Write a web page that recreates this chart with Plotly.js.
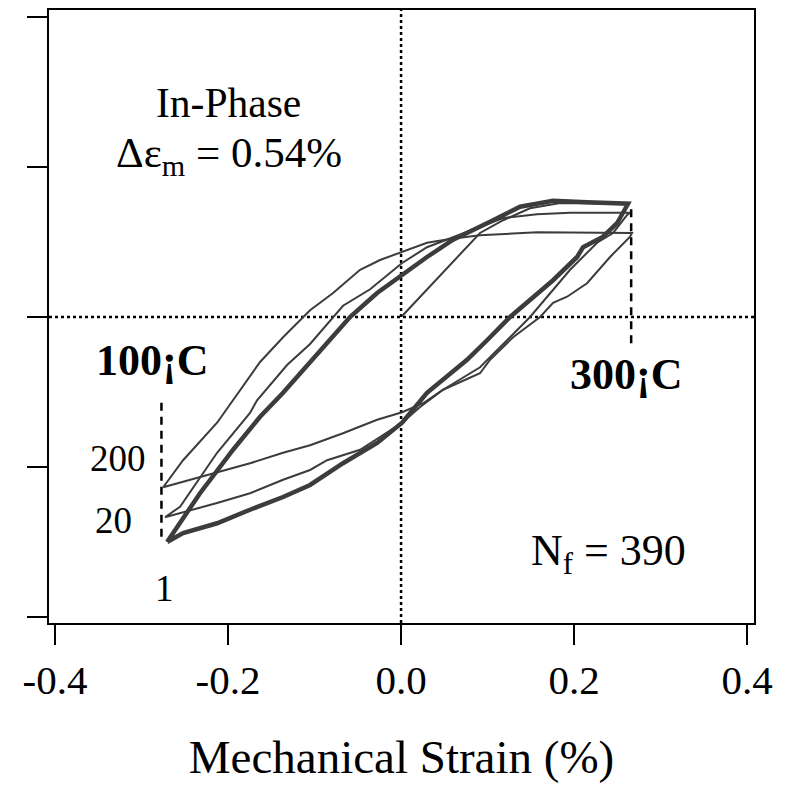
<!DOCTYPE html>
<html>
<head>
<meta charset="utf-8">
<script src="https://cdn.plot.ly/plotly-3.0.1.min.js"></script>
<style>html,body{margin:0;padding:0;background:#fff;}#chart{width:786px;height:789px;}</style>
</head>
<body>
<div id="chart"></div>
<script>
// ---- Data (strain in %, stress in arbitrary MPa-like units) ----
// Cycle 1 (thick): lower-left -> upper branch -> max -> lower branch -> lower-left
var cycle1Strain = [-0.2705,-0.2324,-0.1942,-0.163,-0.1364,-0.1052,-0.0936,-0.059,-0.0277,0.0012,0.030,0.0601,0.0913,0.1029,0.1376,0.1757,0.215,0.2416,0.2624,
                    0.2497,0.2335,0.2104,0.2035,0.1757,0.1491,0.126,0.0994,0.0763,0.030,0.0012,-0.0277,-0.0671,-0.1052,-0.1364,-0.1746,-0.2127,-0.252,-0.2705];
var cycle1Stress = [-300,-235,-177,-133,-101,-60,-47,0,32,56,80,103,120,127,147,155,153,152,151,
                    125,107,93,80,49,23,0,-31,-57,-101,-141,-168,-195,-224,-240,-257,-275,-288,-300];
// Initial loading of cycle 1 (thin), from the origin to the first peak
var initialStrain = [0.001,0.046,0.0913,0.118,0.149,0.184,0.230,0.2624];
var initialStress = [1,57,112,129,145,152,152,151];
// Cycle 20 (thin)
var cycle20Strain = [-0.273,-0.2555,-0.2127,-0.1746,-0.1665,-0.1318,-0.1052,-0.0671,-0.0358,0.0012,0.030,0.0566,0.0913,0.1179,0.1572,0.1954,0.2647,
                     0.2613,0.2451,0.2266,0.1954,0.1491,0.126,0.0994,0.0913,0.0486,0.022,0.0012,-0.0474,-0.0855,-0.1052,-0.1364,-0.1746,-0.2127,-0.252,-0.273];
var cycle20Stress = [-267,-253,-181,-128,-111,-64,-36,15,37,72,93,105,120,132,137,139,139,
                     136,112,99,63,0,-27,-57,-67,-97,-120,-141,-177,-191,-204,-217,-235,-248,-260,-267];
// Cycle 200 (thin)
var cycle200Strain = [-0.275,-0.252,-0.2127,-0.163,-0.1364,-0.1052,-0.0786,-0.0474,-0.0243,0.0012,0.030,0.0566,0.0913,0.1572,0.2335,0.267,
                      0.2647,0.2416,0.215,0.1919,0.1757,0.1607,0.1295,0.1029,0.0913,0.0486,0.0254,0.0012,-0.0277,-0.0671,-0.1052,-0.1364,-0.1746,-0.2324,-0.275];
var cycle200Stress = [-227,-191,-141,-60,-27,9,32,63,76,87,99,104,109,113,112,112,
                      107,80,45,27,19,0,-27,-57,-75,-97,-115,-127,-137,-155,-171,-181,-195,-213,-227];
// Temperature markers (dashed verticals)
var markerStrain = [-0.277, 0.266];
var markerLow    = [-293, -35];
var markerHigh   = [-107, 145];
// Axis ticks
var xTickVals = [-0.4,-0.2,0,0.2,0.4];
var xTickText = ["-0.4","-0.2","0.0","0.2","0.4"];
var yTickVals = [-400,-200,0,200,400];

var serif = "Liberation Serif, Times New Roman, serif";
var curveColor = "#3c3c3c";

var traces = [];
function loop(x, y, w) {
  return {x: x, y: y, type: "scatter", mode: "lines", hoverinfo: "skip",
          line: {color: curveColor, width: w, shape: "linear"}, showlegend: false};
}
// dashed temperature markers
for (var i = 0; i < markerStrain.length; i++) {
  traces.push({x: [markerStrain[i], markerStrain[i]], y: [markerLow[i], markerHigh[i]], type: "scatter", mode: "lines",
               line: {color: "#000", width: 2.5, dash: "8px,6px"}, showlegend: false, hoverinfo: "skip"});
}
traces.push(loop(cycle200Strain, cycle200Stress, 2));
traces.push(loop(cycle20Strain, cycle20Stress, 2));
traces.push(loop(initialStrain, initialStress, 2));
traces.push(loop(cycle1Strain, cycle1Stress, 4.5));

var axisCommon = {showgrid: false, zeroline: false, showline: true, linecolor: "#000", linewidth: 2,
                  mirror: true, ticks: "outside", ticklen: 20, tickwidth: 2, tickcolor: "#000"};

function note(x, y, text, size) {
  return {xref: "paper", yref: "paper", x: x, y: y, xanchor: "center", yanchor: "middle",
          text: text, showarrow: false, font: {family: serif, size: size, color: "#000"}};
}

var layout = {
  width: 786, height: 789,
  margin: {l: 49, r: 32, t: 10, b: 166},
  paper_bgcolor: "#fff", plot_bgcolor: "#fff",
  font: {family: serif, color: "#000"},
  xaxis: Object.assign({}, axisCommon, {
    range: [-0.407, 0.408], tickmode: "array", tickvals: xTickVals, ticktext: xTickText,
    tickfont: {family: serif, size: 41, color: "#000"},
    title: {text: "Mechanical Strain (%)", font: {family: serif, size: 47, color: "#000"}, standoff: 38}
  }),
  yaxis: Object.assign({}, axisCommon, {
    range: [-408, 409.3], tickmode: "array", tickvals: yTickVals, showticklabels: false
  }),
  shapes: [
    {type: "line", xref: "x", yref: "paper", x0: 0, x1: 0, y0: 0, y1: 1, line: {color: "#000", width: 2.5, dash: "dot"}, layer: "below"},
    {type: "line", xref: "paper", yref: "y", x0: 0, x1: 1, y0: 0, y1: 0, line: {color: "#000", width: 2.5, dash: "dot"}, layer: "below"}
  ],
  annotations: [
    note(0.2553, 0.848, "In-Phase", 41.5),
    note(0.2553, 0.762, "Δε<sub>m</sub> = 0.54%", 43),
    note(0.146, 0.429, "<b>100¡C</b>", 44),
    note(0.818, 0.405, "<b>300¡C</b>", 44),
    note(0.098, 0.269, "200", 37),
    note(0.092, 0.168, "20", 37),
    note(0.1645, 0.057, "1", 37),
    note(0.793, 0.114, "N<sub>f</sub> = 390", 44)
  ]
};

Plotly.newPlot("chart", traces, layout, {displayModeBar: false, staticPlot: true});
</script>
</body>
</html>
